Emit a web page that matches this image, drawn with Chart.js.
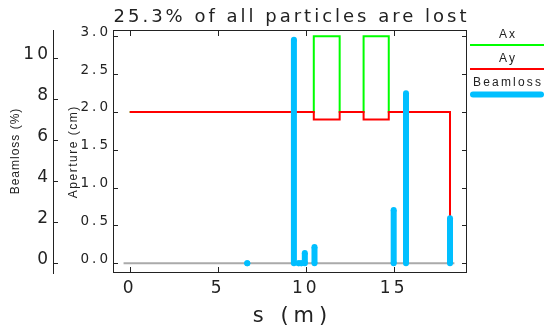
<!DOCTYPE html>
<html>
<head>
<meta charset="utf-8">
<script src="https://cdn.jsdelivr.net/npm/chart.js"></script>
<style>
  html, body { margin: 0; padding: 0; background: #fff; }
  #lossChart { display: block; }
</style>
</head>
<body>
<canvas id="lossChart" width="547" height="333"></canvas>
<script>
// 孔径台阶数据 (s 单位 m, 孔径单位 cm)
const apertureS = [0, 10.46, 10.46, 11.93, 11.93, 13.29, 13.29, 14.72, 14.72, 18.2, 18.2];
const axValues  = [2.0, 2.0, 3.0, 3.0, 2.0, 2.0, 3.0, 3.0, 2.0, 2.0, 0];
const ayValues  = [2.0, 2.0, 1.9, 1.9, 2.0, 2.0, 1.9, 1.9, 2.0, 2.0, 0];
// 束流损失位置 (m) 和损失比例 (%)
const lossS      = [6.68, 9.33, 9.6, 9.75, 9.95, 10.5, 15.0, 15.7, 18.2];
const lossValues = [0, 10.9, 0, 0, 0.5, 0.8, 2.6, 8.3, 2.2];
// 零线
const baseS      = [-0.35, 18.45];
const baseValues = [0, 0];
// 刻度
const sTicks        = [0, 5, 10, 15];
const apertureTicks = [0, 0.5, 1.0, 1.5, 2.0, 2.5, 3.0];
const lossTicks     = [0, 2, 4, 6, 8, 10];

const textColor = '#222';
const lossColor = '#00bfff';

/**
 * 把两个数组拼成 {x, y} 点
 */
function toPoints(xs, ys) {
  return xs.map((x, i) => ({ x: x, y: ys[i] }));
}

/**
 * 每个损失点画成一根从 0 起的竖线, 用 null 断开
 */
function toLossBars(xs, ys) {
  let pts = [];
  xs.forEach((x, i) => {
    pts.push({ x: x, y: 0 }, { x: x, y: ys[i] }, { x: x, y: null });
  });
  return pts;
}

// 总损失
const lostTotal = lossValues.reduce((a, b) => a + b, 0).toFixed(1);

/**
 * 竖排文字
 */
function rotatedText(ctx, text, x, y, font, spacing) {
  ctx.save();
  ctx.translate(x, y);
  ctx.rotate(-Math.PI / 2);
  ctx.font = font;
  ctx.letterSpacing = spacing + 'px';
  ctx.textAlign = 'center';
  ctx.textBaseline = 'alphabetic';
  ctx.fillText(text, spacing / 2, 0);
  ctx.restore();
}

// 边框, 向内的刻度, 标题和图例
const framePlugin = {
  id: 'framePlugin',
  beforeDraw(chart) {
    chart.ctx.letterSpacing = '3px';
  },
  afterDraw(chart) {
    const ctx = chart.ctx;
    const a = chart.chartArea;
    const sc = chart.scales;
    ctx.save();
    ctx.letterSpacing = '0px';
    ctx.strokeStyle = textColor;
    ctx.lineWidth = 1;
    ctx.strokeRect(a.left + 0.5, a.top + 0.5, a.right - a.left - 1, a.bottom - a.top - 1);

    ctx.beginPath();
    sTicks.forEach(v => {
      const x = Math.round(sc.x.getPixelForValue(v)) + 0.5;
      ctx.moveTo(x, a.bottom);
      ctx.lineTo(x, a.bottom - 6);
      ctx.moveTo(x, a.top);
      ctx.lineTo(x, a.top + 6);
    });
    apertureTicks.forEach(v => {
      const y = Math.round(sc.yAp.getPixelForValue(v)) + 0.5;
      ctx.moveTo(a.left, y);
      ctx.lineTo(a.left + 5, y);
      ctx.moveTo(a.right, y);
      ctx.lineTo(a.right - 5, y);
    });
    lossTicks.forEach(v => {
      const y = Math.round(sc.yLoss.getPixelForValue(v)) + 0.5;
      const x0 = sc.yLoss.right;
      ctx.moveTo(x0, y);
      ctx.lineTo(x0 + 5, y);
    });
    ctx.stroke();

    // 标题
    const cx = (a.left + a.right) / 2;
    ctx.fillStyle = textColor;
    ctx.textAlign = 'center';
    ctx.textBaseline = 'alphabetic';
    ctx.font = '18px "DejaVu Sans"';
    ctx.letterSpacing = '3px';
    ctx.fillText(lostTotal + '% of all particles are lost', cx + 1.5, 21.5);
    ctx.font = '21px "DejaVu Sans"';
    ctx.letterSpacing = '5px';
    ctx.fillText('s (m)', cx + 2.5, 322);

    // 轴标题
    const cy = (a.top + a.bottom) / 2;
    rotatedText(ctx, 'Beamloss (%)', 18.5, cy, '12px "Liberation Sans"', 1);
    rotatedText(ctx, 'Aperture (cm)', 77, cy + 1, '12px "Liberation Sans"', 1.5);

    // 图例: 文字在上, 线在下
    const lx0 = a.right + 3, lx1 = 544;
    let row = 0;
    chart.data.datasets.forEach(d => {
      if (!d.label) return;
      const y = 38 + row * 24;
      ctx.font = '12px "Liberation Sans"';
      ctx.letterSpacing = '2.2px';
      ctx.textAlign = 'center';
      ctx.fillText(d.label, (lx0 + lx1) / 2 + 1.1, y);
      ctx.strokeStyle = d.borderColor;
      ctx.lineWidth = d.borderWidth;
      ctx.lineCap = d.legendCap || 'butt';
      ctx.beginPath();
      const thick = d.borderWidth > 3;
      const ly = y + (thick ? 8.5 : 7);
      ctx.moveTo(lx0 + (thick ? 3 : 0), ly);
      ctx.lineTo(lx1 - (thick ? 3 : 0), ly);
      ctx.stroke();
      row++;
    });
    ctx.restore();
  }
};

const tickFont = { family: 'DejaVu Sans', size: 17 };

const chart = new Chart(document.getElementById('lossChart').getContext('2d'), {
  type: 'line',
  data: {
    datasets: [
      {
        label: 'Ax',
        data: toPoints(apertureS, axValues),
        yAxisID: 'yAp',
        borderColor: '#00ff00',
        borderWidth: 2,
        pointRadius: 0,
        order: 2
      },
      {
        label: 'Ay',
        data: toPoints(apertureS, ayValues),
        yAxisID: 'yAp',
        borderColor: '#ff0000',
        borderWidth: 2,
        pointRadius: 0,
        order: 1
      },
      {
        label: 'Beamloss',
        data: toLossBars(lossS, lossValues),
        yAxisID: 'yLoss',
        borderColor: lossColor,
        borderWidth: 6,
        legendCap: 'round',
        pointRadius: 3,
        pointBorderWidth: 0,
        pointBackgroundColor: lossColor,
        spanGaps: false,
        order: 0
      },
      {
        label: '',
        data: toPoints(baseS, baseValues),
        yAxisID: 'yLoss',
        borderColor: '#aaaaaa',
        borderWidth: 2,
        pointRadius: 0,
        order: 3
      }
    ]
  },
  options: {
    responsive: false,
    animation: false,
    devicePixelRatio: 1,
    layout: { padding: { left: 0, right: 80, top: 30, bottom: 0 } },
    plugins: {
      legend: { display: false },
      title: { display: false },
      tooltip: { enabled: false }
    },
    scales: {
      x: {
        type: 'linear',
        min: -0.95,
        max: 19.166,
        afterBuildTicks: s => { s.ticks = sTicks.map(v => ({ value: v })); },
        afterFit: s => { s.height = 60; },
        grid: { display: false, drawTicks: false },
        border: { display: false },
        ticks: { font: tickFont, color: textColor, padding: 5, maxRotation: 0 }
      },
      yAp: {
        type: 'linear',
        position: 'left',
        min: -0.128,
        max: 3.0836,
        afterBuildTicks: s => { s.ticks = apertureTicks.map(v => ({ value: v })); },
        afterFit: s => { s.width = 60; },
        grid: { display: false, drawTicks: false },
        border: { display: false },
        ticks: {
          font: { family: 'DejaVu Sans', size: 13.5 },
          color: textColor,
          padding: 2,
          labelOffset: -4,
          callback: v => v.toFixed(1)
        }
      },
      yLoss: {
        type: 'linear',
        position: 'left',
        min: -0.473,
        max: 11.38,
        afterBuildTicks: s => { s.ticks = lossTicks.map(v => ({ value: v })); },
        afterFit: s => { s.width = 53; },
        grid: { display: false, drawTicks: false },
        border: { display: true, color: textColor, width: 1 },
        ticks: { font: tickFont, color: textColor, padding: 2, labelOffset: -4 }
      }
    }
  },
  plugins: [framePlugin]
});
</script>
</body>
</html>
